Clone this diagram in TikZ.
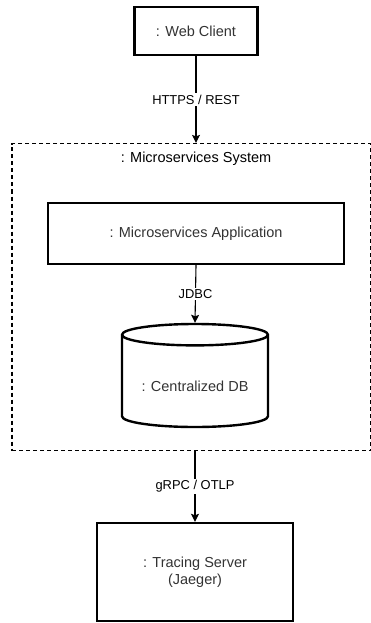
\documentclass[tikz,border=0pt]{standalone}
\usepackage{fontspec}
\setmainfont{Liberation Sans}
\usetikzlibrary{arrows.meta}
\usetikzlibrary{shapes.geometric}
\tikzset{
	part/.style={draw,line width=2.4pt,text=black!80,font=\fontsize{14.5}{17}\selectfont,align=center},
	link/.style={line width=1.1pt,-{Stealth[length=8pt,width=8pt,inset=1.5pt]}},
	lbl/.style={fill=white,inner sep=1.5pt,font=\fontsize{12.9}{15}\selectfont}
}

\begin{document}
\begin{tikzpicture}[x=1pt,y=-1pt]
	\useasboundingbox (0,0) rectangle (371,623);
	%CONTAINER
	\node[draw,dash pattern=on 4pt off 3pt,line width=1.2pt,minimum width=359pt,minimum height=307pt,inner sep=0] (sys) at (191.5,297) {};
	\node[font=\fontsize{14.5}{17}\selectfont] (systitle) at (196,159) {: Microservices System};
	%PARTS
	\node[part,minimum width=123pt,minimum height=48pt] (web) at (196,31) {: Web Client};
	\node[part,minimum width=296pt,minimum height=61pt] (app) at (196,233.5) {: Microservices Application};
	\node[part,cylinder,shape border rotate=90,aspect=0.2,minimum width=146pt,minimum height=103pt,inner sep=0,anchor=shape center] (db) at (195,375.5) {\raisebox{-5pt}[\height][\depth]{: Centralized DB}};
	\node[part,minimum width=196pt,minimum height=98pt] (trace) at (195,572) {: Tracing Server\\(Jaeger)};
	%CONNECTORS
	\draw[link] (web.south) -- node[lbl] {HTTPS / REST} (web.south |- sys.north);
	\draw[link] (app.south) -- node[lbl] {JDBC} (db.north);
	\draw[link] (trace.north |- sys.south) -- node[lbl] {gRPC / OTLP} (trace.north);
\end{tikzpicture}
\end{document}
